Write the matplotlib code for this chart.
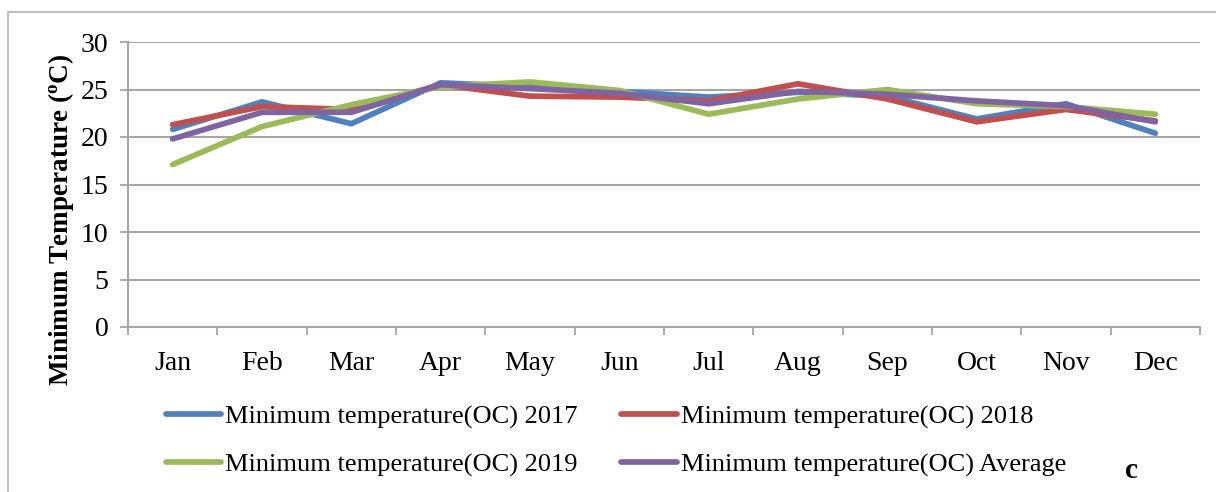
import matplotlib
matplotlib.use('Agg')
import matplotlib.pyplot as plt
from matplotlib.patches import Rectangle
import numpy as np

plt.rcParams['font.family'] = 'Liberation Serif'
plt.rcParams['mathtext.fontset'] = 'custom'
plt.rcParams['mathtext.rm'] = 'Liberation Serif'
plt.rcParams['mathtext.bf'] = 'Liberation Serif:bold'

####################################################
##                 data
####################################################
months = ['Jan', 'Feb', 'Mar', 'Apr', 'May', 'Jun',
          'Jul', 'Aug', 'Sep', 'Oct', 'Nov', 'Dec']
t2017 = [20.8, 23.7, 21.4, 25.7, 25.3, 24.8, 24.2, 24.7, 24.3, 21.9, 23.5, 20.4]
t2018 = [21.3, 23.2, 22.9, 25.5, 24.3, 24.2, 23.8, 25.6, 24.0, 21.6, 22.9, 21.7]
t2019 = [17.1, 21.1, 23.4, 25.3, 25.8, 24.9, 22.4, 24.0, 25.0, 23.5, 23.2, 22.4]
tavg = [19.8, 22.6, 22.6, 25.5, 25.1, 24.6, 23.5, 24.8, 24.5, 23.8, 23.3, 21.6]
yticks = [0, 5, 10, 15, 20, 25, 30]

labels = ['Minimum temperature(OC) 2017', 'Minimum temperature(OC) 2018',
          'Minimum temperature(OC) 2019', 'Minimum temperature(OC) Average']
colors = ['#4F81BD', '#C0504D', '#9BBB59', '#8064A2']
grey = '#A6A6A6'

####################################################
##                 plot
####################################################
fig = plt.figure(figsize=(12.16, 4.92), dpi=100)
ax = fig.add_axes([128 / 1216, 1 - 327 / 492, 1072 / 1216, 285 / 492])

x = np.arange(len(months))
handles = []
for vals, lab, col in zip([t2017, t2018, t2019, tavg], labels, colors):
    h, = ax.plot(x, vals, color=col, lw=4.1, solid_capstyle='round',
                 solid_joinstyle='miter', label=lab)
    handles.append(h)

ax.set_xlim(-0.5, len(months) - 0.5)
ax.set_ylim(0, 30)
ax.set_yticks(yticks)
ax.set_xticks(x)
ax.set_xticklabels(months)
ax.set_xticks(np.arange(-0.5, len(months)), minor=True)
ax.tick_params(axis='x', which='major', length=0, pad=17, labelsize=20)
ax.tick_params(axis='x', which='minor', length=6, color=grey, width=1.3)
ax.tick_params(axis='y', length=6, color=grey, width=1.3, pad=8, labelsize=20)
ax.yaxis.grid(True, color=grey, lw=1.5)
ax.set_axisbelow(True)
for s in ['top', 'right']:
    ax.spines[s].set_visible(False)
for s in ['left', 'bottom']:
    ax.spines[s].set_color(grey)
    ax.spines[s].set_linewidth(1.5)

fig.text(61 / 1216, 1 - 220 / 492, r'Minimum Temperature ($\mathbf{^{o}}$C)',
         rotation=90, ha='center', va='center', fontsize=19.5, fontweight='bold')

# legend, row-wise order
fig.legend([handles[0], handles[2], handles[1], handles[3]],
           [labels[0], labels[2], labels[1], labels[3]],
           ncol=2, loc='upper left', bbox_to_anchor=(166 / 1216, 1 - 405 / 492),
           frameon=False, fontsize=19, handlelength=2.1, handletextpad=0.15,
           columnspacing=1.65, labelspacing=0.9, borderaxespad=0, borderpad=0)

fig.text(1131 / 1216, 1 - 471 / 492, 'c', ha='center', va='center',
         fontsize=21, fontweight='bold')

# outer frame
fig.patches.append(Rectangle((8 / 1216, -0.1), 1.2, 1.1 - 12 / 492,
                             transform=fig.transFigure, fill=False,
                             edgecolor='#BFBFBF', lw=1.5))

plt.savefig('out.png', dpi=100)
